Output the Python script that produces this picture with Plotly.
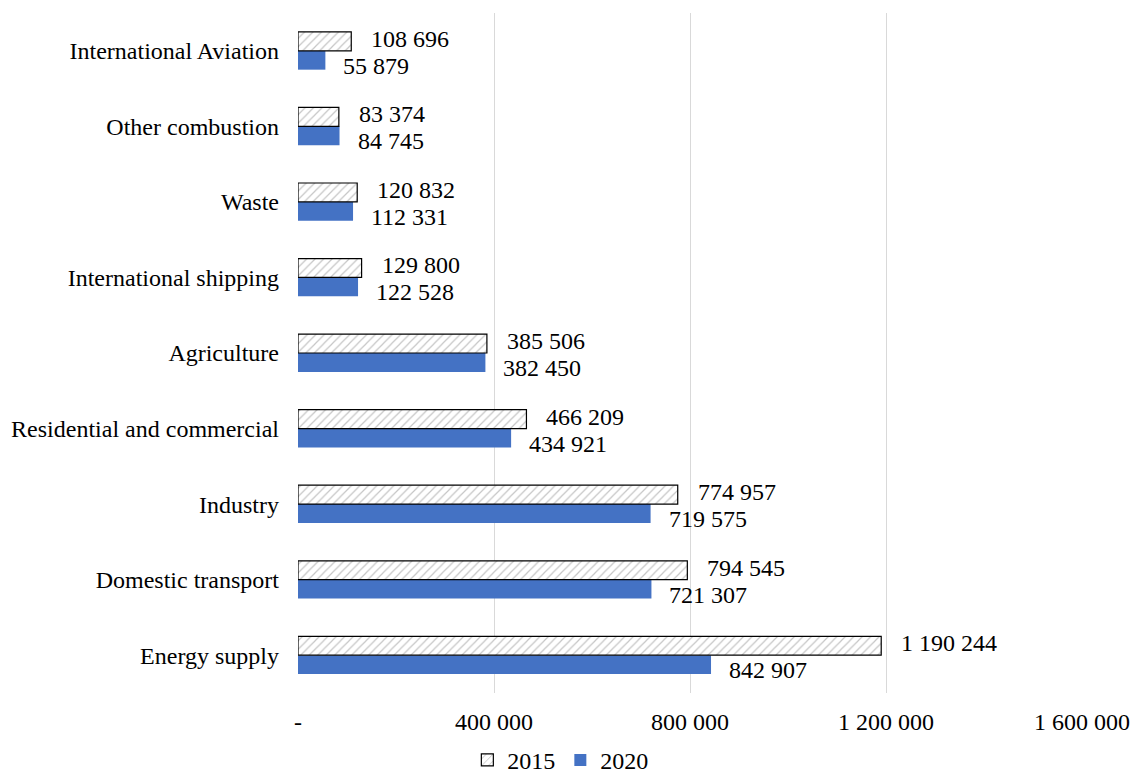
import plotly.graph_objects as go

# Sectors listed bottom-to-top as they appear on the category axis
sectors = [
    "Energy supply",
    "Domestic transport",
    "Industry",
    "Residential and commercial",
    "Agriculture",
    "International shipping",
    "Waste",
    "Other combustion",
    "International Aviation",
]
values_2015 = [1190244, 794545, 774957, 466209, 385506, 129800, 120832, 83374, 108696]
values_2020 = [842907, 721307, 719575, 434921, 382450, 122528, 112331, 84745, 55879]

tick_values = [0, 400000, 800000, 1200000, 1600000]
tick_labels = ["-", "400 000", "800 000", "1 200 000", "1 600 000"]

FONT = "Liberation Serif"
FS = 24


def fmt(v):
    return f"{v:,}".replace(",", " ")


fig = go.Figure()

# Trace order: 2020 first so it sits below 2015 within each group
fig.add_trace(go.Bar(
    y=sectors, x=values_2020, name="2020", orientation="h",
    marker=dict(color="#4472C4", line=dict(width=0)),
    legendrank=2,
))
fig.add_trace(go.Bar(
    y=sectors, x=values_2015, name="2015", orientation="h",
    marker=dict(
        color="white",
        line=dict(color="black", width=1.2),
        pattern=dict(shape="/", fgcolor="#8c8c8c", bgcolor="white",
                     size=6, solidity=0.2),
    ),
    legendrank=1,
))

annotations = []
for s, v in zip(sectors, values_2015):
    annotations.append(dict(
        x=v, y=s, text=fmt(v), showarrow=False, xanchor="left",
        xshift=18, yshift=12, font=dict(family=FONT, size=FS, color="black"),
    ))
for s, v in zip(sectors, values_2020):
    annotations.append(dict(
        x=v, y=s, text=fmt(v), showarrow=False, xanchor="left",
        xshift=16, yshift=-15, font=dict(family=FONT, size=FS, color="black"),
    ))

fig.update_layout(
    width=1132, height=774,
    margin=dict(l=298, r=50, t=13, b=81, autoexpand=False),
    paper_bgcolor="white", plot_bgcolor="white",
    barmode="group", bargap=0.5, bargroupgap=0,
    font=dict(family=FONT, size=FS, color="black"),
    annotations=annotations,
    showlegend=True,
    legend=dict(
        orientation="h", xref="container", yref="paper",
        x=0.495, xanchor="center", y=-0.099, yanchor="middle",
        font=dict(family=FONT, size=FS, color="black"),
        itemwidth=30, tracegroupgap=0,
    ),
    xaxis=dict(
        range=[0, 1600000], tickvals=tick_values, ticktext=tick_labels,
        showgrid=True, gridcolor="#d9d9d9", gridwidth=1.3,
        zeroline=False, showline=False, ticks="",
        ticklabelstandoff=12, automargin=False,
    ),
    yaxis=dict(
        categoryorder="array", categoryarray=sectors,
        showgrid=False, zeroline=False, showline=False, ticks="",
        ticklabelstandoff=18, automargin=False,
    ),
)

fig.write_html("out.html")
